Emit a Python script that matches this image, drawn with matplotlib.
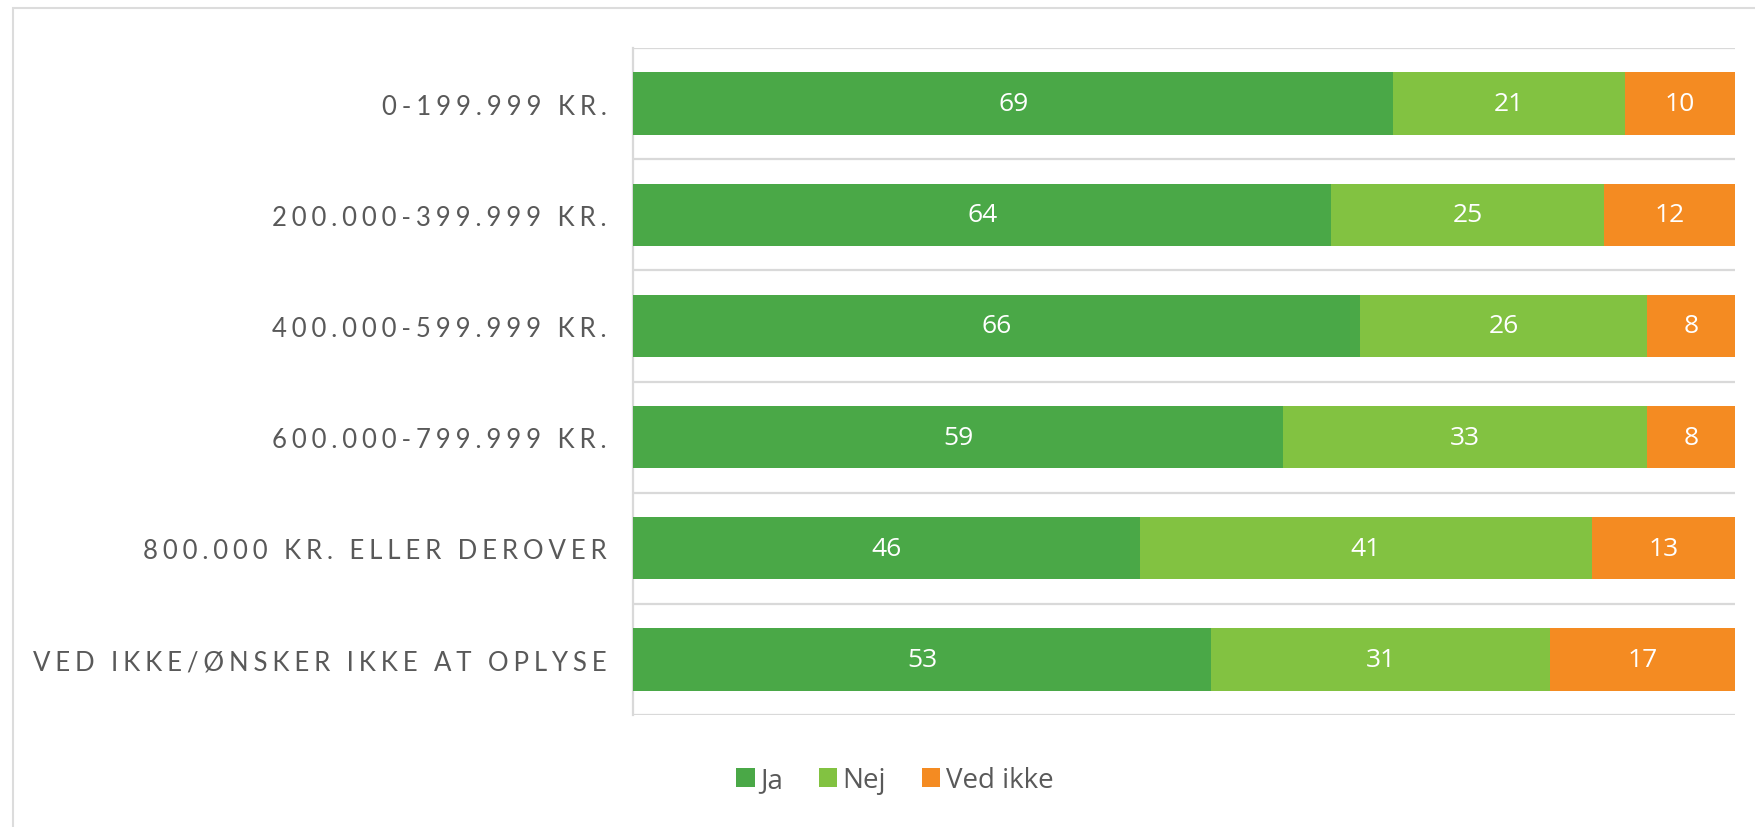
import matplotlib.pyplot as plt
import matplotlib.patches as mpatches
import numpy as np

#--- DATA ---
categories = ['0-199.999 KR.', '200.000-399.999 KR.', '400.000-599.999 KR.',
              '600.000-799.999 KR.', '800.000 KR. ELLER DEROVER',
              'VED IKKE/ØNSKER IKKE AT OPLYSE']
ja = [69, 64, 66, 59, 46, 53]
nej = [21, 25, 26, 33, 41, 31]
ved_ikke = [10, 12, 8, 8, 13, 17]
series_names = ['Ja', 'Nej', 'Ved ikke']

#--- STYLE ---
colors = ['#4AA847', '#82C241', '#F48B22']
grid_color = '#D9D9D9'
label_color = '#595959'

fig = plt.figure(figsize=(17.55, 8.28), dpi=100)
ax = fig.add_axes([633 / 1755, 1 - 716 / 828, 1102 / 1755, 667 / 828])

# outer frame
frame = mpatches.Rectangle((13 / 1755, -0.05), 1.1, 1 - 9 / 828 + 0.05,
                           transform=fig.transFigure, fill=False,
                           edgecolor='#DCDCDC', linewidth=1.5, zorder=0)
fig.patches.append(frame)

data = np.array([ja, nej, ved_ikke], dtype=float)
totals = data.sum(axis=0)
shares = data / totals * 100  # stacked to 100 %

y = np.arange(len(categories))
left = np.zeros(len(categories))
for i, name in enumerate(series_names):
    bars = ax.barh(y, shares[i], left=left, height=0.56, color=colors[i],
                   label=name, zorder=3)
    for j, b in enumerate(bars):
        ax.text(b.get_x() + b.get_width() / 2, b.get_y() + b.get_height() / 2,
                f'{int(data[i, j])}', ha='center', va='center', color='white',
                fontsize=19, family=['Open Sans', 'DejaVu Sans'], zorder=4)
    left += shares[i]

ax.set_xlim(0, 100)
ax.set_ylim(len(categories) - 0.5, -0.5)

# gridlines at category boundaries
for b in np.arange(-0.5, len(categories), 1.0):
    ax.axhline(b, color=grid_color, linewidth=1.6, zorder=1)

# letter-spaced category labels
spaced = ['\u2009\u200a'.join(c) for c in categories]
ax.set_yticks(y)
ax.set_yticklabels(spaced, family=['Lato', 'DejaVu Sans'], fontsize=18.5,
                   color=label_color)
ax.tick_params(axis='y', length=0, pad=19)
ax.set_xticks([])

for s in ['top', 'right', 'bottom']:
    ax.spines[s].set_visible(False)
ax.spines['left'].set_color(grid_color)
ax.spines['left'].set_linewidth(1.6)

leg = fig.legend(loc='center', bbox_to_anchor=(895 / 1755, 1 - 781 / 828),
                 ncol=3, frameon=False, handlelength=0.65, handleheight=0.65,
                 handletextpad=0.2, columnspacing=1.3,
                 prop={'family': ['Open Sans', 'DejaVu Sans'], 'size': 20})
for t in leg.get_texts():
    t.set_color(label_color)

fig.savefig('out.png', dpi=100)
